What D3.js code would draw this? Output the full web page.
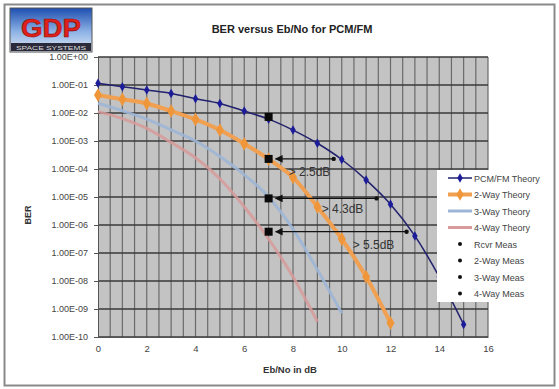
<!DOCTYPE html>
<html><head><meta charset="utf-8">
<script src="https://cdn.jsdelivr.net/npm/d3@7"></script>
<style>
body{margin:0;background:#fff;}
svg{display:block;font-family:"Liberation Sans",Arial,sans-serif;}
</style></head>
<body><svg id="c" width="559" height="389"></svg>
<script>
// ---- data (log10 of BER) ----
const pcmX = [0,1,2,3,4,5,6,7,8,9,10,11,12,13,14,15];
const pcmLog = [-0.94,-1.06,-1.18,-1.30,-1.49,-1.66,-1.93,-2.22,-2.61,-3.08,-3.66,-4.39,-5.26,-6.39,-7.85,-9.55];
const way2X = [0,1,2,3,4,5,6,7,8,9,10,11,12];
const way2Log = [-1.36,-1.51,-1.66,-1.93,-2.23,-2.61,-3.10,-3.65,-4.30,-5.35,-6.50,-7.85,-9.50];
const way3X = [0,1,2,3,4,5,6,7,8,9,10];
const way3Log = [-1.65,-1.92,-2.22,-2.60,-3.00,-3.55,-4.20,-5.00,-6.15,-7.60,-9.15];
const way4X = [0,1,2,3,4,5,6,7,8,9];
const way4Log = [-1.95,-2.20,-2.55,-3.05,-3.60,-4.35,-5.35,-6.50,-7.85,-9.45];
const measNames = ["Rcvr Meas","2-Way Meas","3-Way Meas","4-Way Meas"];
const measX = [7,7,7,7];
const measLog = [-2.14,-3.64,-5.05,-6.24];
const arrowFromX = [9.67,11.43,12.66];
const gainLabels = ["> 2.5dB","> 4.3dB","> 5.5dB"];
const xTicks = [0,2,4,6,8,10,12,14,16];
const yTickExp = [0,-1,-2,-3,-4,-5,-6,-7,-8,-9,-10];
const yTickLabels = ["1.00E+00","1.00E-01","1.00E-02","1.00E-03","1.00E-04","1.00E-05","1.00E-06","1.00E-07","1.00E-08","1.00E-09","1.00E-10"];
const title = "BER versus Eb/No for PCM/FM";
const xLabel = "Eb/No in dB";
const yLabel = "BER";

const svg = d3.select("#c");
// outer frame
svg.append("rect").attr("x",4.5).attr("y",4.5).attr("width",550).attr("height",381)
  .attr("fill","#fff").attr("stroke","#8a8a8a").attr("stroke-width",2);

const L=98,R=488,T=57,B=337;
const x = d3.scaleLinear().domain([0,16]).range([L,R]);
const y = d3.scaleLog().domain([1e-10,1]).range([B,T]);
const p = e => Math.pow(10,e);

// plot background
svg.append("rect").attr("x",L).attr("y",T).attr("width",R-L).attr("height",B-T).attr("fill","#c3c3c3");
// vertical grid every 0.5
const g = svg.append("g");
g.selectAll("line.v").data(d3.range(0.5,16.01,0.5)).join("line")
  .attr("x1",d=>x(d)).attr("x2",d=>x(d)).attr("y1",T).attr("y2",B)
  .attr("stroke","#6a6a6a").attr("stroke-width",1.2);
g.selectAll("line.h").data(yTickExp).join("line")
  .attr("x1",L).attr("x2",R).attr("y1",d=>y(p(d))).attr("y2",d=>y(p(d)))
  .attr("stroke","#3a3a3a").attr("stroke-width",1.4);

// axes
const yAxis = d3.axisLeft(y).tickValues(yTickExp.map(p)).tickSize(4)
  .tickFormat((d,i)=>yTickLabels[i]);
const ya = svg.append("g").attr("transform",`translate(${L},0)`).call(yAxis);
ya.select(".domain").attr("stroke","#555");
ya.selectAll(".tick line").attr("stroke","#555");
ya.selectAll("text").attr("fill","#444").attr("font-size",9).attr("dx",-3);
const xAxis = d3.axisBottom(x).tickValues(xTicks).tickSize(0).tickFormat(d3.format("d"));
const xa = svg.append("g").attr("transform",`translate(0,${B})`).call(xAxis);
xa.select(".domain").attr("stroke","#555");
xa.selectAll("text").attr("fill","#444").attr("font-size",9.5).attr("dy",12);

// series
const line = d3.line().x(d=>x(d[0])).y(d=>y(p(d[1]))).curve(d3.curveMonotoneX);
const zip = (a,b)=>a.map((v,i)=>[v,b[i]]);
// 4-way (pink)
svg.append("path").datum(zip(way4X,way4Log)).attr("d",line).attr("fill","none")
  .attr("stroke","#d89a9a").attr("stroke-width",3).attr("opacity",0.85);
// 3-way (light blue)
svg.append("path").datum(zip(way3X,way3Log)).attr("d",line).attr("fill","none")
  .attr("stroke","#9db6d6").attr("stroke-width",3).attr("opacity",0.9);
// 2-way (orange)
svg.append("path").datum(zip(way2X,way2Log)).attr("d",line).attr("fill","none")
  .attr("stroke","#f0a050").attr("stroke-width",4);
svg.selectAll("path.m2").data(zip(way2X,way2Log)).join("path")
  .attr("d",d3.symbol(d3.symbolDiamond,55)())
  .attr("transform",d=>`translate(${x(d[0])},${y(p(d[1]))})`).attr("fill","#f0963a");
// PCM/FM theory (navy)
svg.append("path").datum(zip(pcmX,pcmLog)).attr("d",line).attr("fill","none")
  .attr("stroke","#22226e").attr("stroke-width",1.5);
svg.selectAll("path.m1").data(zip(pcmX,pcmLog)).join("path")
  .attr("d",d3.symbol(d3.symbolDiamond,26)())
  .attr("transform",d=>`translate(${x(d[0])},${y(p(d[1]))})`).attr("fill","#1c1c9a");

// arrows
const defs = svg.append("defs");
defs.append("marker").attr("id","ah").attr("viewBox","0 0 10 10").attr("refX",9).attr("refY",5)
  .attr("markerWidth",6).attr("markerHeight",6).attr("orient","auto-start-reverse")
  .append("path").attr("d","M0,0L10,5L0,10Z").attr("fill","#111");
arrowFromX.forEach((ax,i)=>{
  const yy = y(p(measLog[i+1]));
  svg.append("line").attr("x1",x(ax)).attr("x2",x(measX[i+1])+7).attr("y1",yy).attr("y2",yy)
    .attr("stroke","#111").attr("stroke-width",1.3).attr("marker-end","url(#ah)");
  svg.append("circle").attr("cx",x(ax)).attr("cy",yy).attr("r",2.2).attr("fill","#111");
  svg.append("text").attr("x",x(measX[i+1])+[20,53,84][i]).attr("y",yy+[17,15,17][i])
    .attr("font-size",12).attr("fill","#333").text(gainLabels[i]);
});
// meas squares
svg.selectAll("rect.meas").data(zip(measX,measLog)).join("rect")
  .attr("x",d=>x(d[0])-4).attr("y",d=>y(p(d[1]))-4).attr("width",8).attr("height",8).attr("fill","#0a0a0a");

// legend
const lg = svg.append("g");
lg.append("rect").attr("x",437).attr("y",170).attr("width",116).attr("height",132).attr("fill","#fff");
const legItems = [
  {n:"PCM/FM Theory",c:"#22226e",w:1.5,m:"d",mc:"#1c1c9a",ms:26},
  {n:"2-Way Theory",c:"#f0a050",w:4,m:"d",mc:"#f0963a",ms:45},
  {n:"3-Way Theory",c:"#9db6d6",w:3},
  {n:"4-Way Theory",c:"#d89a9a",w:3}
].concat(measNames.map(n=>({n:n,dot:true})));
legItems.forEach((it,i)=>{
  const yy = 178+i*16.5;
  if(!it.dot){
    lg.append("line").attr("x1",448).attr("x2",472).attr("y1",yy).attr("y2",yy)
      .attr("stroke",it.c).attr("stroke-width",it.w);
    if(it.m) lg.append("path").attr("d",d3.symbol(d3.symbolDiamond,it.ms)())
      .attr("transform",`translate(460,${yy})`).attr("fill",it.mc);
  } else {
    lg.append("circle").attr("cx",460).attr("cy",yy).attr("r",2).attr("fill","#111");
  }
  lg.append("text").attr("x",474).attr("y",yy+3.5).attr("font-size",9).attr("fill","#444").text(it.n);
});

// title & axis labels
svg.append("text").attr("x",292).attr("y",33).attr("text-anchor","middle").attr("font-size",11)
  .attr("font-weight","bold").attr("fill","#222").text(title);
svg.append("text").attr("x",290).attr("y",373).attr("text-anchor","middle").attr("font-size",9.5)
  .attr("font-weight","bold").attr("fill","#333").text(xLabel);
svg.append("text").attr("transform","translate(31,215) rotate(-90)").attr("text-anchor","middle")
  .attr("font-size",9).attr("font-weight","bold").attr("fill","#333").text(yLabel);

// logo
const lgGrad = defs.append("linearGradient").attr("id","sky").attr("x1",0).attr("y1",0).attr("x2",0).attr("y2",1);
lgGrad.append("stop").attr("offset","0%").attr("stop-color","#1d4fb0");
lgGrad.append("stop").attr("offset","55%").attr("stop-color","#8fb4e6");
lgGrad.append("stop").attr("offset","100%").attr("stop-color","#dfe8f4");
svg.append("rect").attr("x",10).attr("y",8).attr("width",82).attr("height",44).attr("fill","url(#sky)").attr("stroke","#555");
svg.append("text").attr("x",51).attr("y",37).attr("text-anchor","middle").attr("font-size",26)
  .attr("font-weight","bold").attr("fill","#e0201a").attr("stroke","#8a0f0a").attr("stroke-width",0.6)
  .attr("textLength",60).attr("lengthAdjust","spacingAndGlyphs").text("GDP");
svg.append("rect").attr("x",11).attr("y",43).attr("width",80).attr("height",8).attr("fill","#2a2a3a");
svg.append("text").attr("x",51).attr("y",50).attr("text-anchor","middle").attr("font-size",6)
  .attr("fill","#ddd").attr("textLength",70).attr("lengthAdjust","spacingAndGlyphs").text("SPACE SYSTEMS");
</script></body></html>
